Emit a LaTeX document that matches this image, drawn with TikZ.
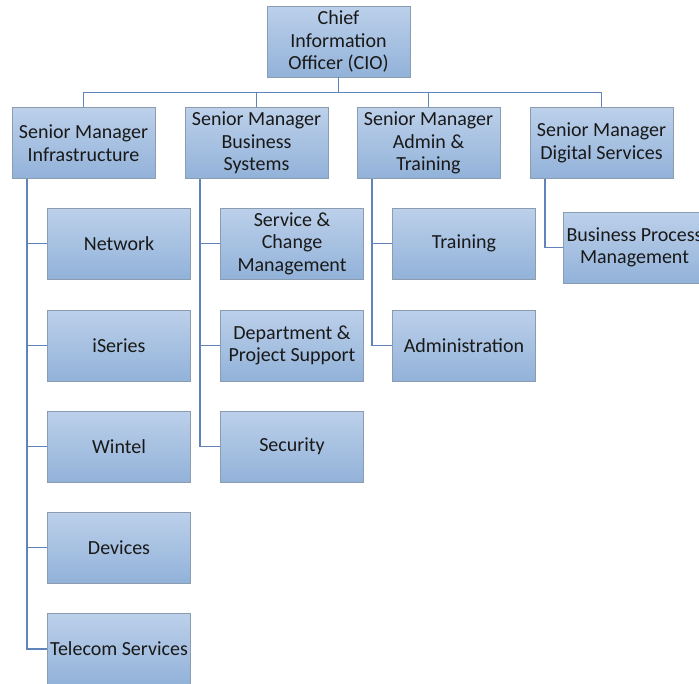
\documentclass[tikz,border=0pt]{standalone}
\usepackage{fontspec}
\setmainfont{Carlito}
\usepackage{xcolor}
\definecolor{boxtop}{RGB}{188,208,234}
\definecolor{boxbot}{RGB}{146,178,217}
\definecolor{boxline}{RGB}{140,156,176}
\definecolor{linkblue}{RGB}{96,132,185}

\tikzset{
  orgbox/.style={draw=boxline, line width=0.8pt, top color=boxtop, bottom color=boxbot,
    minimum width=143pt, minimum height=71pt, inner sep=0pt, align=center,
    text=black!90, font=\fontsize{20}{22.5}\selectfont},
  link/.style={draw=linkblue, line width=1.4pt}
}

\begin{document}
\begin{tikzpicture}[x=1pt,y=1pt,yscale=-1,xscale=1]
\clip (0,0) rectangle (699,683);

% Top
\node [orgbox] (cio) at (338.5,41.5) {Chief\\Information\\Officer (CIO)};

% Senior managers
\node [orgbox] (infra) at (83.5,143) {Senior Manager\\Infrastructure};
\node [orgbox] (bizsys) at (256.5,143) {Senior Manager\\Business\\Systems};
\node [orgbox] (admin) at (428.5,143) {Senior Manager\\Admin \&\\Training};
\node [orgbox] (digital) at (601.5,143) {Senior Manager\\Digital Services};

% Infrastructure team
\node [orgbox] (network) at (119,243.5) {Network};
\node [orgbox] (iseries) at (119,345.5) {iSeries};
\node [orgbox] (wintel) at (119,446.5) {Wintel};
\node [orgbox] (devices) at (119,547.5) {Devices};
\node [orgbox] (telecom) at (119,649) {Telecom Services};

% Business systems team
\node [orgbox] (service) at (292,243.5) {Service \&\\Change\\Management};
\node [orgbox] (dept) at (292,345.5) {Department \&\\Project Support};
\node [orgbox] (security) at (292,446.5) {Security};

% Admin team
\node [orgbox] (training) at (464,243.5) {Training};
\node [orgbox] (administration) at (464,345.5) {Administration};

% Digital team
\node [orgbox] (bpm) at (634.5,247.5) {Business Process\\Management};

% Spines
\coordinate (infraspine) at (27,179);
\coordinate (bizspine) at (200,179);
\coordinate (adminspine) at (372,179);
\coordinate (digispine) at (545,179);

% Links from the top
\draw [link] (cio.south) -- ++(0,15) -| (infra.north);
\draw [link] (cio.south) -- ++(0,15) -| (bizsys.north);
\draw [link] (cio.south) -- ++(0,15) -| (admin.north);
\draw [link] (cio.south) -- ++(0,15) -| (digital.north);

% Links to teams
\foreach \n in {network,iseries,wintel,devices,telecom}
  \draw [link] (infraspine) |- (\n.west);
\foreach \n in {service,dept,security}
  \draw [link] (bizspine) |- (\n.west);
\foreach \n in {training,administration}
  \draw [link] (adminspine) |- (\n.west);
\draw [link] (digispine) |- (bpm.west);

\end{tikzpicture}
\end{document}
